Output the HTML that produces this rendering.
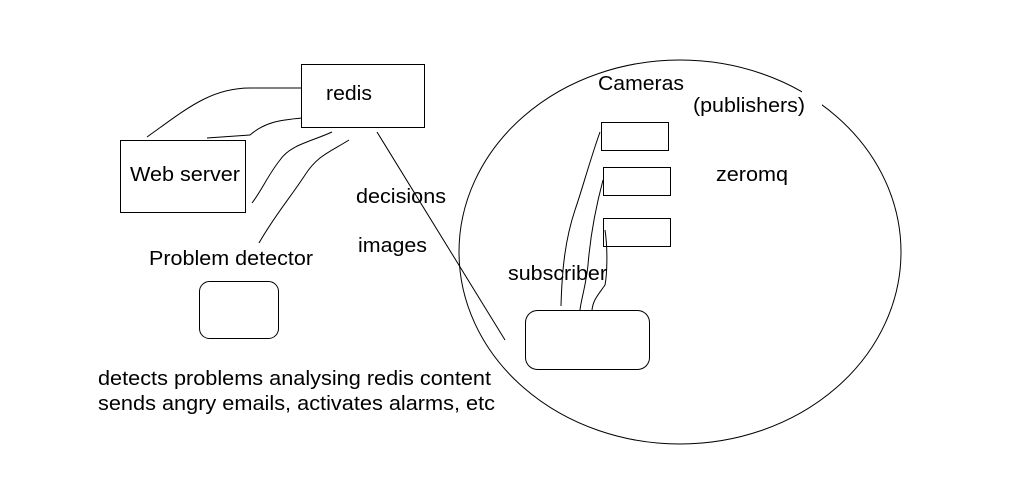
<!DOCTYPE html>
<html><head><meta charset="utf-8"><style>
html,body{margin:0;padding:0;background:#fff;}
svg{display:block;}
text{font-family:"Liberation Sans",Arial,sans-serif;font-size:20px;fill:#000;}
</style></head><body>
<svg width="1020" height="503" viewBox="0 0 1020 503" xmlns="http://www.w3.org/2000/svg">
<g fill="none" stroke="#000" stroke-width="1">
<ellipse cx="680" cy="252" rx="221" ry="192"/>
</g>
<rect x="802" y="88" width="20" height="22" fill="#fff"/>
<g fill="none" stroke="#000" stroke-width="1">
<rect x="301.5" y="64.5" width="123" height="63"/>
<rect x="120.5" y="140.5" width="125" height="72"/>
<rect x="199.5" y="281.5" width="79" height="57" rx="10"/>
<rect x="525.5" y="310.5" width="124" height="59" rx="12"/>
<rect x="601.5" y="122.5" width="67" height="28"/>
<rect x="603.5" y="167.5" width="67" height="28"/>
<rect x="603.5" y="218.5" width="67" height="28"/>
<path d="M147 137 C185 110,210 88,250 88 L301 88"/>
<path d="M207 138 L250 135 C265 122,280 120,302 118"/>
<path d="M332 132 C310 142,290 145,280 160 C268 175,262 190,252 203"/>
<path d="M349 140 C330 152,318 155,305 175 C290 198,275 215,259 243"/>
<path d="M377 132 L505 340"/>
<path d="M600 132 C590 160,582 190,575 210 C565 240,562 270,561 306"/>
<path d="M603 180 C595 210,590 240,588 265 C586 285,581 300,580 310"/>
<path d="M605 230 C608 250,607 275,605 285 C598 295,593 300,592 310"/>
</g>
<g lengthAdjust="spacingAndGlyphs">
<text x="326" y="100" textLength="46" lengthAdjust="spacingAndGlyphs">redis</text>
<text x="130" y="181" textLength="110" lengthAdjust="spacingAndGlyphs">Web server</text>
<text x="149" y="265" textLength="164" lengthAdjust="spacingAndGlyphs">Problem detector</text>
<text x="356" y="203" textLength="90" lengthAdjust="spacingAndGlyphs">decisions</text>
<text x="358" y="252" textLength="69" lengthAdjust="spacingAndGlyphs">images</text>
<text x="598" y="90" textLength="86" lengthAdjust="spacingAndGlyphs">Cameras</text>
<text x="693" y="112" textLength="112" lengthAdjust="spacingAndGlyphs">(publishers)</text>
<text x="716" y="181" textLength="72" lengthAdjust="spacingAndGlyphs">zeromq</text>
<text x="508" y="280" textLength="99" lengthAdjust="spacingAndGlyphs">subscriber</text>
<text x="98" y="385" textLength="393" lengthAdjust="spacingAndGlyphs">detects problems analysing redis content</text>
<text x="98" y="410" textLength="397" lengthAdjust="spacingAndGlyphs">sends angry emails, activates alarms, etc</text>
</g>
</svg>
</body></html>
